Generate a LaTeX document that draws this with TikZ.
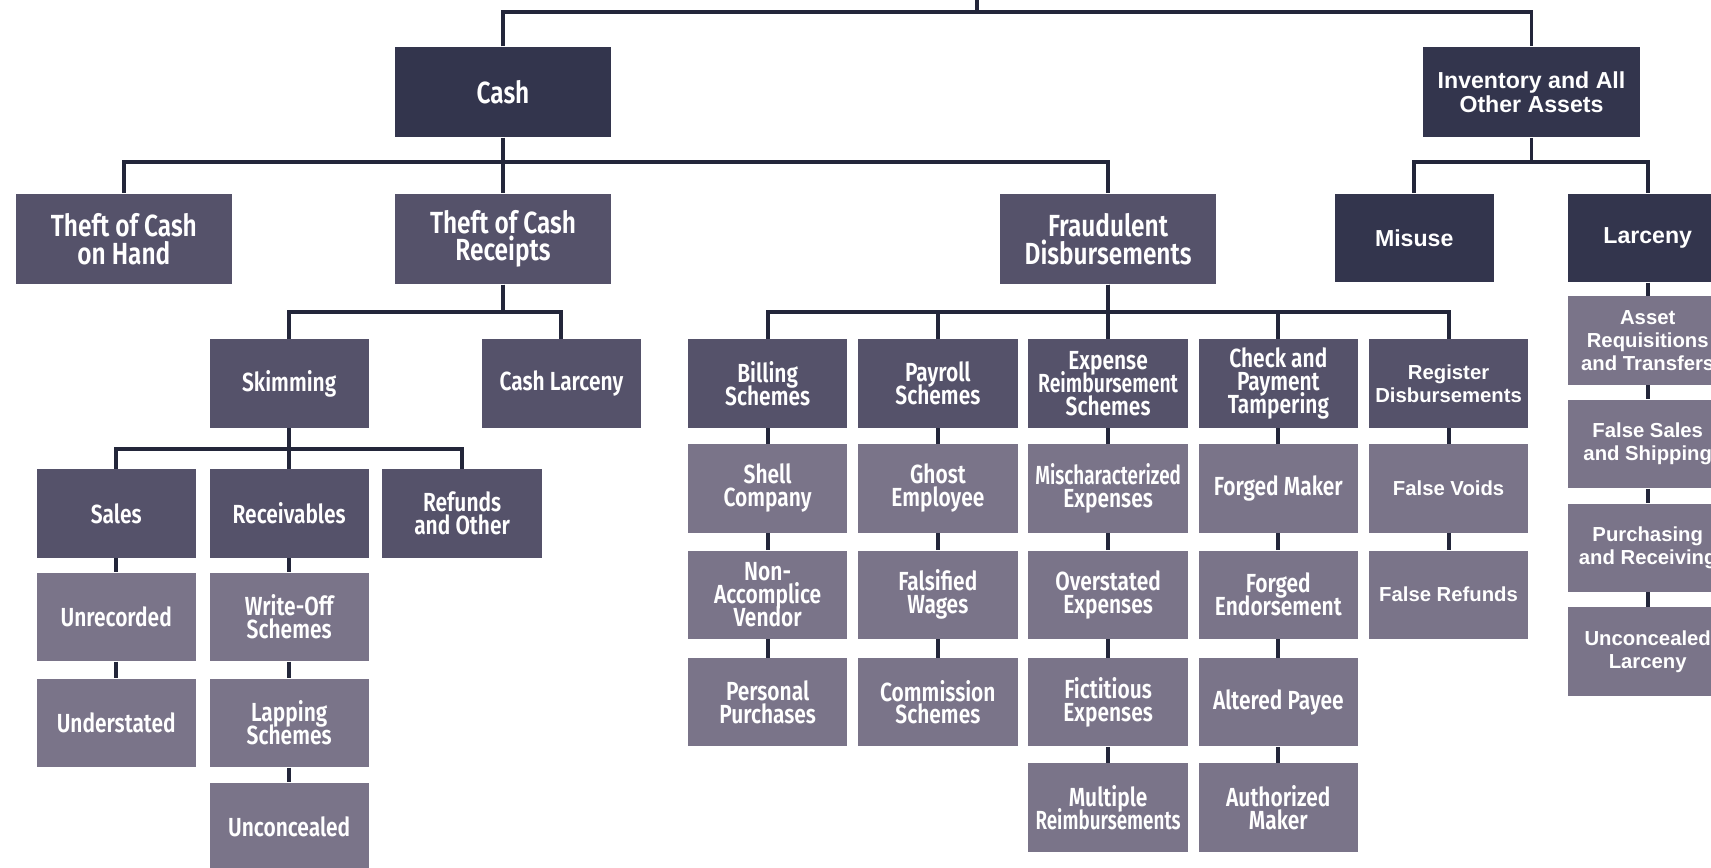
\documentclass[tikz,border=0pt]{standalone}
\usepackage{fontspec}
\usetikzlibrary{positioning}
\newfontfamily\condfont{Fira Sans SemiBold}[FakeStretch=0.8]
\newfontfamily\widefont{Liberation Sans}
\newcommand\tightlines{\lineskiplimit -20pt\relax}
\definecolor{fraudnavy}{HTML}{33354D}
\definecolor{fraudslate}{HTML}{55526A}
\definecolor{fraudgrey}{HTML}{7A7489}
\definecolor{fraudline}{HTML}{23263A}

\begin{document}
\begin{tikzpicture}[x=0.5pt, y=-0.5pt,
    box/.style={inner sep=0pt, align=center, text=white},
    big/.style={box, minimum width=99pt, minimum height=41.5pt},
    small/.style={box, minimum width=73pt, minimum height=40.5pt},
    navy/.style={fill=fraudnavy},
    slate/.style={fill=fraudslate},
    grey/.style={fill=fraudgrey},
    cond/.style={font=\condfont\fontsize{14}{12.6}\selectfont\tightlines},
    condsm/.style={font=\condfont\fontsize{12}{10.5}\selectfont\tightlines},
    widehd/.style={font=\widefont\bfseries\fontsize{10.6}{11.4}\selectfont\tightlines},
    widesm/.style={font=\widefont\bfseries\fontsize{9.3}{10.4}\selectfont\tightlines},
    link/.style={draw=fraudline, line width=1.8pt}]
\clip (0,0) rectangle (1568,795);
\useasboundingbox (0,0) rectangle (1568,795);

% top level
\node[big, navy, cond] (cash) at (461, 84.5) {Cash};
\node[big, navy, widehd] (inv) at (1403.5, 84.5) {Inventory and All\\Other Assets};

% second level
\node[big, slate, cond] (onhand) at (113.5, 219) {Theft of Cash\\on Hand};
\node[big, slate, cond] (receipts) at (461, 219) {Theft of Cash\\Receipts};
\node[big, slate, cond] (fraud) at (1015.5, 219) {Fraudulent\\Disbursements};
\node[small, navy, widehd] (misuse) at (1296, 218) {Misuse};
\node[small, navy, widehd] (larceny) at (1510, 218) {Larceny};

% cash receipts
\node[small, slate, condsm] (skim) at (265, 351.5) {Skimming};
\node[small, slate, condsm] (cashlarc) at (514.5, 351.5) {Cash Larceny};
\node[small, slate, condsm] (sales) at (106.5, 470.5) {Sales};
\node[small, slate, condsm] (recv) at (265, 470.5) {Receivables};
\node[small, slate, condsm] (refunds) at (423.5, 470.5) {Refunds\\and Other};
\node[small, grey, condsm] (unrec) at (106.5, 565.5) {Unrecorded};
\node[small, grey, condsm] (underst) at (106.5, 662.5) {Understated};
\node[small, grey, condsm] (writeoff) at (265, 565.5) {Write-Off\\Schemes};
\node[small, grey, condsm] (lapping) at (265, 662.5) {Lapping\\Schemes};
\node[small, grey, condsm] (unconc) at (265, 758) {Unconcealed};

% fraudulent disbursements
\node[small, slate, condsm] (billing) at (703.5, 351.5) {Billing\\Schemes};
\node[small, slate, condsm] (payroll) at (859.5, 351.5) {Payroll\\Schemes};
\node[small, slate, condsm] (expense) at (1015.5, 351.5) {Expense\\{\addfontfeature{FakeStretch=0.74}Reimbursement}\\Schemes};
\node[small, slate, condsm] (check) at (1171.5, 351.5) {Check and\\Payment\\Tampering};
\node[small, slate, widesm] (register) at (1327.5, 351.5) {Register\\Disbursements};

\node[small, grey, condsm] (shell) at (703.5, 447.5) {Shell\\Company};
\node[small, grey, condsm] (nonacc) at (703.5, 545) {Non-\\Accomplice\\Vendor};
\node[small, grey, condsm] (personal) at (703.5, 643.5) {Personal\\Purchases};
\node[small, grey, condsm] (ghost) at (859.5, 447.5) {Ghost\\Employee};
\node[small, grey, condsm] (wages) at (859.5, 545) {Falsified\\Wages};
\node[small, grey, condsm] (commission) at (859.5, 643.5) {Commission\\Schemes};
\node[small, grey, condsm] (mischar) at (1015.5, 447.5) {{\addfontfeature{FakeStretch=0.72}Mischaracterized}\\Expenses};
\node[small, grey, condsm] (overst) at (1015.5, 545) {Overstated\\Expenses};
\node[small, grey, condsm] (fictit) at (1015.5, 643.5) {Fictitious\\Expenses};
\node[small, grey, condsm] (multiple) at (1015.5, 740) {Multiple\\{\addfontfeature{FakeStretch=0.72}Reimbursements}};
\node[small, grey, condsm] (forgedm) at (1171.5, 447.5) {Forged Maker};
\node[small, grey, condsm] (forgede) at (1171.5, 545) {Forged\\Endorsement};
\node[small, grey, condsm] (altered) at (1171.5, 643.5) {Altered Payee};
\node[small, grey, condsm] (authorized) at (1171.5, 740) {Authorized\\Maker};
\node[small, grey, widesm] (voids) at (1327.5, 447.5) {False Voids};
\node[small, grey, widesm] (frefunds) at (1327.5, 545) {False Refunds};

% larceny
\node[small, grey, widesm] (asset) at (1510, 312) {Asset\\Requisitions\\and Transfers};
\node[small, grey, widesm] (fsales) at (1510, 407) {False Sales\\and Shipping};
\node[small, grey, widesm] (purchasing) at (1510, 502) {Purchasing\\and Receiving};
\node[small, grey, widesm] (unconclarc) at (1510, 597) {Unconcealed\\Larceny};

% connectors
\coordinate (root) at (895, 0);
\coordinate (rootbus) at (895, 11);
\draw[link] (root) -- (rootbus);
\draw[link] (cash.north) |- (rootbus) -| (inv.north);
\foreach \n in {onhand, receipts, fraud}
    \draw[link] (cash.south) -- ++(0,22) -| (\n.north);
\foreach \n in {misuse, larceny}
    \draw[link] (inv.south) -- ++(0,22) -| (\n.north);
\foreach \n in {skim, cashlarc}
    \draw[link] (receipts.south) -- ++(0,25) -| (\n.north);
\foreach \n in {billing, payroll, expense, check, register}
    \draw[link] (fraud.south) -- ++(0,25) -| (\n.north);
\foreach \n in {sales, recv, refunds}
    \draw[link] (skim.south) -- ++(0,19) -| (\n.north);
\foreach \a/\b in {sales/unrec, unrec/underst, recv/writeoff, writeoff/lapping,
    lapping/unconc, billing/shell, shell/nonacc, nonacc/personal,
    payroll/ghost, ghost/wages, wages/commission, expense/mischar,
    mischar/overst, overst/fictit, fictit/multiple, check/forgedm,
    forgedm/forgede, forgede/altered, altered/authorized, register/voids,
    voids/frefunds, larceny/asset, asset/fsales, fsales/purchasing,
    purchasing/unconclarc}
    \draw[link] (\a.south) -- (\b.north);
\end{tikzpicture}
\end{document}
